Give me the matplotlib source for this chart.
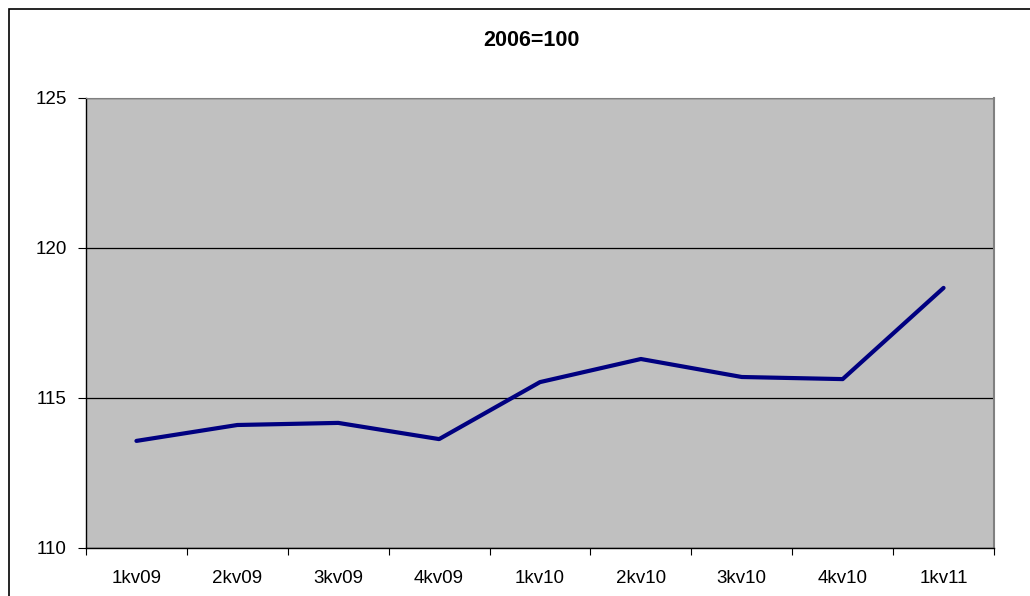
import matplotlib.pyplot as plt
from matplotlib.patches import Rectangle

plt.rcParams['font.family'] = ['Liberation Sans', 'DejaVu Sans']

# Data
quarters = ["1kv09", "2kv09", "3kv09", "4kv09", "1kv10", "2kv10", "3kv10", "4kv10", "1kv11"]
index_values = [113.57, 114.1, 114.17, 113.63, 115.53, 116.3, 115.7, 115.63, 118.67]
y_ticks = [110, 115, 120, 125]

fig = plt.figure(figsize=(10.3, 5.96), dpi=100)
fig.patch.set_facecolor("white")

# outer chart frame (cut off at right/bottom like the original)
fig.patches.append(Rectangle((9 / 1030, -0.05), 1.2, (596 - 9) / 596 + 0.05,
                             transform=fig.transFigure, fill=False,
                             edgecolor="black", linewidth=1.2))

ax = fig.add_axes([86 / 1030, 48 / 596, 908 / 1030, 450 / 596])
ax.set_facecolor("#c0c0c0")

x = range(len(quarters))
ax.plot(x, index_values, color="#000080", linewidth=3, solid_capstyle="round",
        solid_joinstyle="round", zorder=3)

ax.set_xlim(-0.5, len(quarters) - 0.5)
ax.set_ylim(110, 125)
ax.set_yticks(y_ticks)
ax.set_yticklabels([str(v) for v in y_ticks], fontsize=13.5)
ax.yaxis.grid(True, color="black", linewidth=0.9)
ax.set_axisbelow(True)

# category labels at centers, ticks at boundaries
ax.set_xticks([i - 0.5 for i in range(len(quarters) + 1)])
ax.set_xticklabels([])
ax.set_xticks(list(x), minor=True)
ax.set_xticklabels(quarters, minor=True, fontsize=13.5)
ax.tick_params(axis="x", which="minor", length=0, pad=16)
ax.tick_params(axis="x", which="major", length=5, direction="out", color="black")
ax.tick_params(axis="y", length=6, direction="out", pad=8)

for side in ["left", "bottom"]:
    ax.spines[side].set_color("black")
    ax.spines[side].set_linewidth(1.0)
ax.spines["top"].set_color("#808080")
ax.spines["right"].set_color("#808080")
ax.spines["right"].set_linewidth(1.5)

fig.text(531 / 1030, 1 - 40 / 596, "2006=100", fontsize=15.5, fontweight="bold",
         ha="center", va="center")

fig.savefig("out.png", dpi=100)
